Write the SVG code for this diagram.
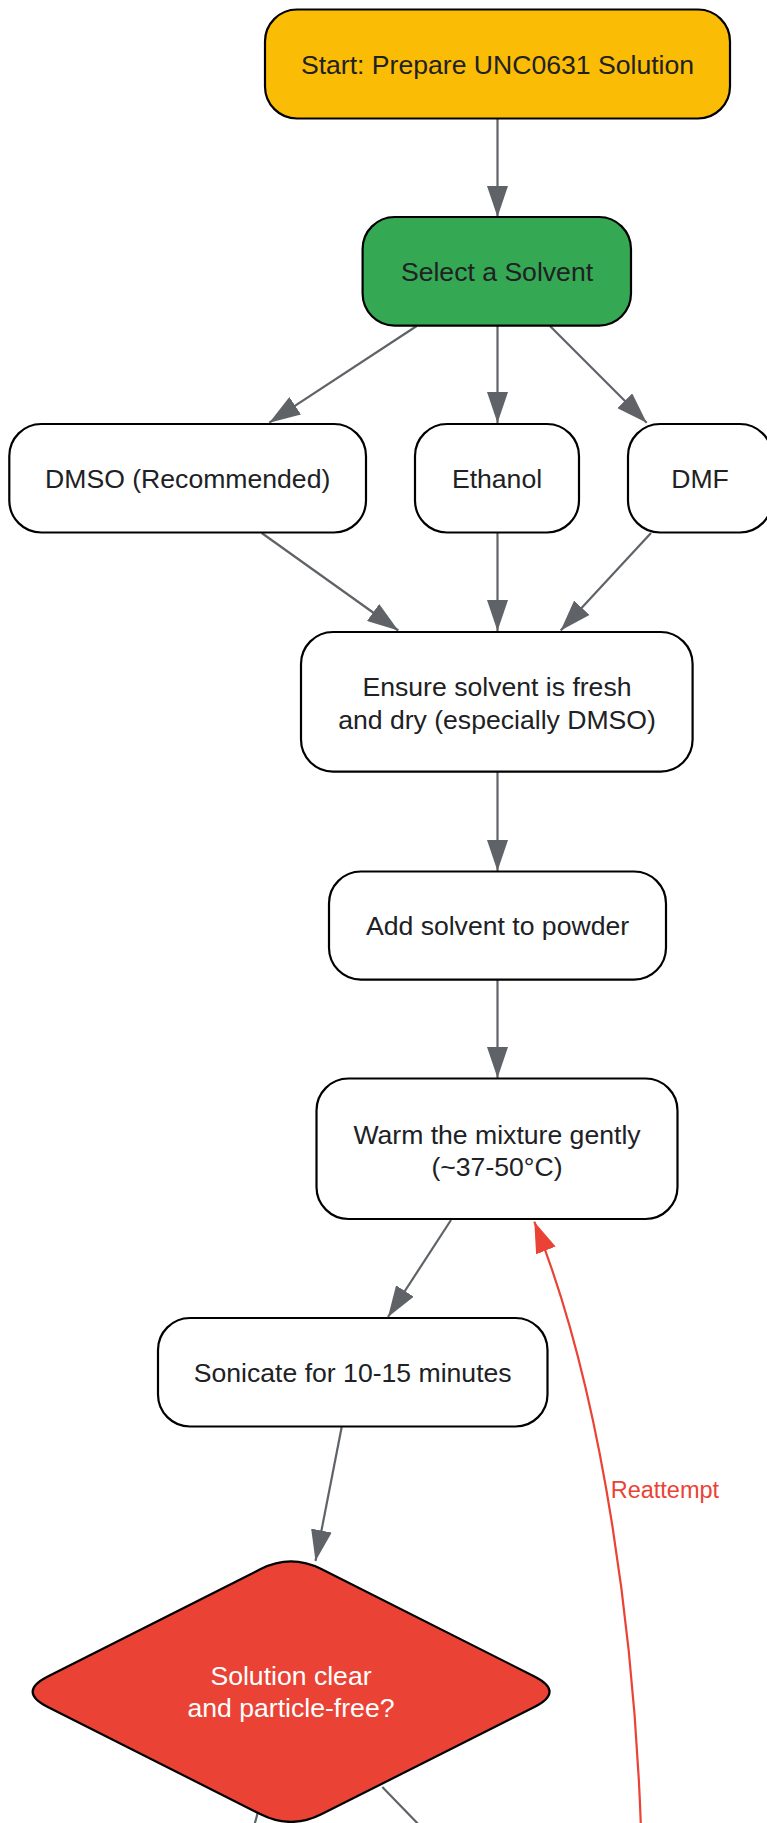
<svg xmlns="http://www.w3.org/2000/svg" width="767" height="1823" viewBox="0 0 767 1823">
<defs>
<style>
.node{fill:#ffffff;stroke:#000000;stroke-width:2.2}
.t{font-family:"Liberation Sans",Arial,sans-serif;font-size:26.6px;fill:#202124;text-anchor:middle}
.tw{fill:#ffffff}
.e{fill:none;stroke:#5F6368;stroke-width:2.2}
.er{fill:none;stroke:#EA4335;stroke-width:2.2}
.lbl{font-family:"Liberation Sans",Arial,sans-serif;font-size:23.5px;fill:#EA4335}
</style>
<marker id="ag" markerUnits="userSpaceOnUse" markerWidth="31" markerHeight="21" refX="31" refY="10.5" orient="auto">
<path d="M0,0 L31,10.5 L0,21 Z" fill="#5F6368"/>
</marker>
<marker id="ar" markerUnits="userSpaceOnUse" markerWidth="31" markerHeight="21" refX="31" refY="10.5" orient="auto">
<path d="M0,0 L31,10.5 L0,21 Z" fill="#EA4335"/>
</marker>
</defs>
<rect width="767" height="1823" fill="#ffffff"/>

<g id="connectors">
<line class="e" x1="497.5" y1="118.5" x2="497.5" y2="217" marker-end="url(#ag)"/>
<line class="e" x1="416.7" y1="326" x2="269.3" y2="422.7" marker-end="url(#ag)"/>
<line class="e" x1="497.5" y1="326" x2="497.5" y2="423" marker-end="url(#ag)"/>
<line class="e" x1="550" y1="326" x2="646.7" y2="422.7" marker-end="url(#ag)"/>
<line class="e" x1="261.7" y1="533" x2="398.3" y2="630.5" marker-end="url(#ag)"/>
<line class="e" x1="497.5" y1="533" x2="497.5" y2="631" marker-end="url(#ag)"/>
<line class="e" x1="651" y1="533" x2="560.7" y2="630.5" marker-end="url(#ag)"/>
<line class="e" x1="497.5" y1="772" x2="497.5" y2="871" marker-end="url(#ag)"/>
<line class="e" x1="497.5" y1="980" x2="497.5" y2="1078" marker-end="url(#ag)"/>
<line class="e" x1="451" y1="1220" x2="388" y2="1317" marker-end="url(#ag)"/>
<line class="e" x1="341.7" y1="1427" x2="315.5" y2="1561" marker-end="url(#ag)"/>
<line class="e" x1="258.5" y1="1810" x2="253" y2="1830"/>
<line class="e" x1="382.3" y1="1787" x2="424" y2="1830"/>
<path class="er" d="M641,1830 C635,1650 606,1400 534.3,1221.7" marker-end="url(#ar)"/>
<text class="lbl" x="610.7" y="1498">Reattempt</text>
</g>

<g id="start">
<rect x="265" y="9.5" width="465" height="109" rx="32" ry="32" class="node" style="fill:#FBBC05"/>
<text class="t" x="497.5" y="73.5">Start: Prepare UNC0631 Solution</text>
</g>

<g id="select">
<rect x="362.6" y="217" width="268.4" height="108.6" rx="32" ry="32" class="node" style="fill:#34A853"/>
<text class="t" x="497" y="281">Select a Solvent</text>
</g>

<g id="dmso">
<rect x="9.3" y="424" width="356.7" height="108.5" rx="32" ry="32" class="node"/>
<text class="t" x="187.7" y="488">DMSO (Recommended)</text>
</g>

<g id="ethanol">
<rect x="415" y="424" width="164" height="108.5" rx="32" ry="32" class="node"/>
<text class="t" x="497" y="488">Ethanol</text>
</g>

<g id="dmf">
<rect x="628" y="424" width="144" height="108.5" rx="32" ry="32" class="node"/>
<text class="t" x="700" y="488">DMF</text>
</g>

<g id="ensure">
<rect x="301" y="632" width="391.6" height="139.6" rx="32" ry="32" class="node"/>
<text class="t" x="497" y="696">Ensure solvent is fresh</text>
<text class="t" x="497" y="728.5">and dry (especially DMSO)</text>
</g>

<g id="add">
<rect x="329" y="871.5" width="337" height="108.2" rx="32" ry="32" class="node"/>
<text class="t" x="497.5" y="935">Add solvent to powder</text>
</g>

<g id="warm">
<rect x="316.5" y="1078.5" width="361" height="140.5" rx="32" ry="32" class="node"/>
<text class="t" x="497" y="1143.5">Warm the mixture gently</text>
<text class="t" x="497" y="1175.5">(~37-50°C)</text>
</g>

<g id="sonicate">
<rect x="158" y="1318" width="389.5" height="108.5" rx="32" ry="32" class="node"/>
<text class="t" x="352.7" y="1382">Sonicate for 10-15 minutes</text>
</g>

<g id="decision">
<path d="M260.7,1569.1 Q291,1553.8 321.3,1569.1 L534.4,1676.4 Q564.7,1691.7 534.4,1707 L321.3,1814.3 Q291,1829.6 260.7,1814.3 L47.8,1707 Q17.5,1691.7 47.8,1676.4 Z" class="node" style="fill:#EA4335"/>
<text class="t tw" x="291" y="1685">Solution clear</text>
<text class="t tw" x="291" y="1717">and particle-free?</text>
</g>
</svg>
